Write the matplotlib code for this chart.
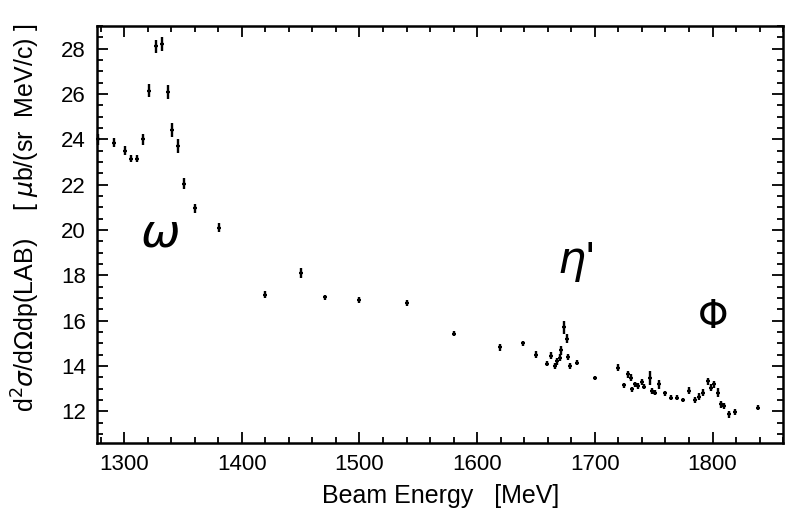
import numpy as np
import matplotlib.pyplot as plt
from matplotlib.ticker import MultipleLocator

# beam energy (MeV), cross section, error
energy = [1278, 1291, 1301, 1306, 1311, 1316, 1321.5, 1327, 1332, 1337, 1341, 1346,
          1351, 1360, 1380.5, 1420, 1450, 1471, 1500, 1540, 1580,
          1619, 1639, 1650, 1659, 1663, 1666, 1668, 1670, 1671.5, 1673.5, 1676, 1677,
          1679, 1685, 1700,
          1719.5, 1724.5, 1728, 1731, 1731.5, 1734, 1736.5, 1740, 1742, 1746.5, 1748.5,
          1751, 1754.5, 1760, 1765, 1770, 1775, 1780, 1785.5, 1788.5, 1792, 1796,
          1799, 1801, 1804.5, 1807, 1810, 1814, 1819, 1839]
xsec = [24.0, 23.85, 23.5, 23.15, 23.15, 24.0, 26.15, 28.1, 28.2, 26.1, 24.4, 23.7,
        22.05, 20.95, 20.1, 17.15, 18.1, 17.03, 16.9, 16.78, 15.43,
        14.83, 15.0, 14.5, 14.1, 14.46, 14.0, 14.2, 14.36, 14.7, 15.7, 15.2, 14.39,
        14.0, 14.14, 13.46,
        13.92, 13.14, 13.63, 13.48, 12.97, 13.19, 13.11, 13.29, 13.08, 13.48, 12.9,
        12.82, 13.19, 12.79, 12.6, 12.6, 12.5, 12.9, 12.5, 12.65, 12.82, 13.33,
        13.04, 13.19, 12.82, 12.3, 12.23, 11.87, 11.97, 12.16]
err = [0.25, 0.2, 0.2, 0.15, 0.15, 0.25, 0.3, 0.3, 0.3, 0.3, 0.3, 0.3,
       0.25, 0.2, 0.2, 0.15, 0.2, 0.12, 0.12, 0.15, 0.12,
       0.15, 0.12, 0.15, 0.12, 0.15, 0.15, 0.15, 0.15, 0.2, 0.3, 0.2, 0.15,
       0.15, 0.12, 0.1,
       0.15, 0.12, 0.15, 0.15, 0.12, 0.12, 0.12, 0.15, 0.12, 0.3, 0.12,
       0.12, 0.2, 0.1, 0.1, 0.1, 0.1, 0.15, 0.12, 0.15, 0.15, 0.15,
       0.15, 0.15, 0.2, 0.15, 0.15, 0.15, 0.12, 0.12]

plt.rcParams['font.family'] = ['Liberation Sans', 'DejaVu Sans']
plt.rcParams['mathtext.fontset'] = 'dejavusans'

fig = plt.figure(figsize=(7.85, 5.13), dpi=100)
ax = fig.add_axes([0.1236, 0.1365, 0.874, 0.8128])

ax.errorbar(energy, xsec, yerr=err, fmt='_', color='k', ms=3, mew=1.6,
            elinewidth=1.7, capsize=0, clip_on=False)

ax.set_xlim(1277, 1860)
ax.set_ylim(10.6, 29)
ax.xaxis.set_major_locator(MultipleLocator(100))
ax.xaxis.set_minor_locator(MultipleLocator(20))
ax.yaxis.set_major_locator(MultipleLocator(2))
ax.yaxis.set_minor_locator(MultipleLocator(0.5))
ax.tick_params(which='both', direction='in', top=True, right=True, width=1.3)
ax.tick_params(which='major', length=8, labelsize=16, pad=8)
ax.tick_params(which='minor', length=4)
for s in ax.spines.values():
    s.set_linewidth(1.8)

ax.set_xlabel('Beam Energy   [MeV]', fontsize=18)
ax.xaxis.set_label_coords(0.501, -0.098)
ax.set_ylabel(r'd$^2\sigma$/d$\Omega$dp(LAB)    [ $\mu$b/(sr  MeV/c) ]', fontsize=18)
ax.yaxis.set_label_coords(-0.08, 0.54)

ax.text(1330, 19.8, r'$\omega$', fontsize=34, ha='center', va='center')
ax.text(1683, 18.6, r"$\eta$'", fontsize=32, ha='center', va='center')
ax.text(1800, 16.1, r'$\Phi$', fontsize=28, ha='center', va='center')

fig.savefig('out.png', dpi=100)
